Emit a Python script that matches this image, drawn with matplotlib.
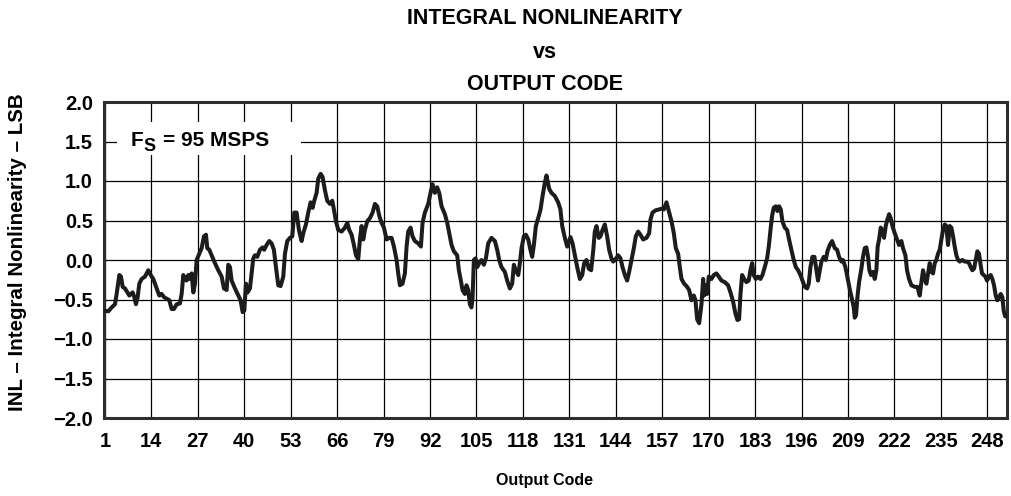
import matplotlib
matplotlib.use('Agg')
import matplotlib.pyplot as plt
from matplotlib.patches import Rectangle

plt.rcParams['font.family'] = ['Liberation Sans', 'DejaVu Sans']
plt.rcParams['font.weight'] = 'bold'

# output code (x) and INL in LSB (y)
code = [0.75, 1.96, 2.89, 3.82, 4.29, 5.04, 5.50, 5.97, 6.62, 7.28, 7.84, 8.30, 8.77, 9.24, 9.70,
        10.17, 10.63, 11.29, 12.22, 13.15, 13.81, 14.55, 15.49, 16.23, 16.88, 17.54, 18.28, 19.03,
        19.68, 20.34, 21.08, 22.01, 22.48, 22.95, 23.41, 23.88, 24.35, 24.81, 25.28, 25.75, 26.21,
        26.68, 27.43, 28.08, 28.73, 29.29, 29.66, 30.22, 30.88, 31.81, 32.74, 33.68, 34.33, 35.07,
        35.54, 36.01, 36.47, 37.41, 38.34, 38.99, 39.55, 40.02, 40.49, 40.95, 41.60,
        42.07, 42.53, 43.00, 43.65, 44.40, 45.14, 45.60, 46.26, 47.00, 47.66, 48.30, 48.88, 49.53,
        50.18, 50.93, 51.40, 52.05, 52.80, 53.45, 54.00, 54.66, 55.31, 56.06, 56.53, 57.27, 57.92,
        58.58, 59.14, 59.60, 60.26, 60.72, 61.38, 61.94, 62.60, 63.24, 64.00, 64.64, 65.10, 65.67,
        66.32, 67.25, 68.19, 68.84, 69.40, 70.05, 70.70, 71.27, 71.92, 72.38, 72.85, 73.32, 73.78,
        74.44, 75.18, 75.93, 76.58, 77.23, 77.80, 78.45, 79.10, 79.85, 80.60, 81.25, 81.90, 82.64,
        83.10, 83.58,
        84.30, 84.97, 85.44, 85.90, 86.56, 87.10, 87.77, 88.70, 89.45, 89.91, 90.57, 91.50, 92.15,
        92.71, 93.36, 94.00, 94.58, 95.23, 96.16, 96.82, 97.38, 98.03, 98.68, 99.60, 100.08, 100.55,
        101.10, 101.76, 102.20, 102.70, 103.16, 103.60, 103.90, 104.28, 104.75, 105.20, 105.77,
        106.40, 107.08, 107.64, 108.29, 109.20, 110.16, 110.80, 111.37, 112.00, 112.95, 113.60,
        114.35, 115.00, 115.47, 116.00, 116.70, 117.15, 117.62, 118.27, 118.83, 119.50, 120.10,
        120.60, 121.07, 121.63, 122.28, 122.94, 123.50, 124.15, 124.60, 125.36, 126.00,
        126.94, 127.87, 128.50, 129.00, 129.74, 130.40, 130.95, 131.32, 131.90, 132.54, 133.20,
        133.94, 134.60, 135.15, 135.80, 136.45, 137.10, 137.67, 138.13, 138.60, 139.25, 139.72,
        140.28, 140.93, 141.58, 142.14, 142.80, 143.26, 143.82, 144.66, 145.32, 145.88, 146.53,
        147.18, 147.74, 148.40, 149.05, 149.60, 150.26, 150.90, 151.66, 152.59, 153.34, 153.70,
        154.27, 155.20, 156.14, 156.79, 157.44, 158.19, 158.84, 159.59, 160.24, 160.80, 161.45,
        161.92, 162.39, 163.13, 163.79, 164.53, 165.18, 165.84, 166.30, 166.77, 167.33, 167.98,
        168.45,
        168.72, 169.19, 169.56, 170.03, 170.78, 171.43, 172.17, 172.83, 173.57, 174.50, 175.44,
        176.10, 176.84, 177.50, 178.05, 178.52, 178.90, 179.36, 179.92, 180.57, 181.20, 181.69,
        182.16, 182.60, 183.18, 183.84, 184.49, 185.05, 185.70, 186.35, 186.82, 187.30, 187.75,
        188.20, 188.78, 189.25, 189.71, 190.18, 190.64, 191.30, 191.95, 192.50, 193.16, 193.80,
        194.40, 195.03, 195.68, 196.24, 196.90, 197.55, 198.00, 198.48, 199.04, 199.60, 200.16,
        200.60, 201.10, 201.56, 202.20, 202.77, 203.24, 203.89, 204.54, 205.30, 205.94, 206.50,
        207.16, 207.60, 208.27, 209.00, 209.67, 210.20,
        210.60, 210.88, 211.25, 211.63, 212.10, 212.74, 213.20, 213.68, 214.14, 214.60, 214.98,
        215.45, 216.00, 216.48, 216.94, 217.30, 217.70, 218.15, 218.62, 219.10, 219.55, 220.00,
        220.50, 220.95, 221.42, 222.07, 222.73, 223.30, 223.94, 224.40, 225.06, 225.52, 226.08,
        226.74, 227.67, 228.42, 229.07, 229.54, 230.00, 230.47, 230.94, 231.40, 231.87, 232.34,
        232.80, 233.27, 233.73, 234.20, 234.67, 235.13, 235.60, 236.07, 236.53, 237.00, 237.47,
        237.93, 238.40, 238.86, 239.33, 239.80, 240.26, 241.00, 241.66, 242.30, 242.88, 243.34,
        243.80, 244.28, 244.74, 245.20, 245.67, 246.05, 246.50, 246.98, 247.45, 247.90, 248.47,
        248.94, 249.40, 249.87, 250.34, 250.80, 251.27, 251.74, 252.20, 252.58, 252.95, 253.50]

inl = [-0.64, -0.65, -0.60, -0.56, -0.43, -0.19, -0.21, -0.34, -0.36, -0.41, -0.45, -0.43, -0.41, -0.47, -0.56,
       -0.47, -0.30, -0.24, -0.21, -0.13, -0.19, -0.24, -0.36, -0.45, -0.43, -0.47, -0.49, -0.51,
       -0.62, -0.62, -0.56, -0.55, -0.43, -0.19, -0.24, -0.26, -0.19, -0.24, -0.17, -0.41, -0.30,
       0.00, 0.08, 0.15, 0.30, 0.32, 0.15, 0.13, 0.06, -0.04, -0.13, -0.21, -0.36, -0.38,
       -0.06, -0.09, -0.26, -0.36, -0.45, -0.51, -0.66, -0.64, -0.30, -0.41, -0.36,
       -0.17, 0.02, 0.06, 0.04, 0.13, 0.16, 0.13, 0.19, 0.24, 0.21, 0.13, -0.09, -0.32,
       -0.33, -0.21, 0.08, 0.24, 0.28, 0.30, 0.60, 0.60, 0.38, 0.24, 0.34, 0.45, 0.60,
       0.73, 0.66, 0.75, 0.85, 1.03, 1.09, 1.05, 0.88, 0.75, 0.71, 0.75, 0.64, 0.49,
       0.38, 0.36, 0.41, 0.47, 0.38, 0.32, 0.19, 0.06, 0.01, 0.26, 0.43, 0.26, 0.38,
       0.49, 0.53, 0.60, 0.71, 0.68, 0.56, 0.47, 0.41, 0.26, 0.28, 0.28, 0.17, 0.00,
       -0.17, -0.32,
       -0.30, -0.17, 0.17, 0.36, 0.41, 0.30, 0.24, 0.21, 0.17, 0.47, 0.60, 0.71, 0.85,
       0.96, 0.85, 0.92, 0.85, 0.68, 0.58, 0.47, 0.34, 0.19, 0.11, 0.06, -0.13, -0.24,
       -0.38, -0.43, -0.32, -0.38, -0.56, -0.60, -0.49, 0.00, 0.02, -0.09, -0.04,
       0.00, -0.06, 0.02, 0.21, 0.28, 0.24, 0.13, 0.00, -0.09, -0.15, -0.26,
       -0.36, -0.30, -0.06, -0.13, -0.19, -0.04, 0.15, 0.30, 0.32, 0.26, 0.13,
       0.04, 0.19, 0.43, 0.53, 0.64, 0.81, 0.98, 1.07, 0.90, 0.85,
       0.81, 0.73, 0.64, 0.43, 0.28, 0.17, 0.24, 0.29, 0.21, 0.06, -0.09,
       -0.24, -0.19, -0.04, 0.00, -0.11, -0.13, 0.11, 0.36, 0.43, 0.28, 0.30,
       0.38, 0.45, 0.30, 0.13, 0.02, -0.02, 0.00, 0.06, 0.02, -0.09, -0.19,
       -0.26, -0.15, 0.00, 0.15, 0.30, 0.36, 0.32, 0.26, 0.28, 0.34, 0.51,
       0.60, 0.63, 0.64, 0.65, 0.64, 0.73, 0.62, 0.49, 0.34, 0.15, 0.08,
       -0.09, -0.24, -0.30, -0.33, -0.38, -0.51, -0.45, -0.51, -0.75, -0.80, -0.56,
       -0.24,
       -0.45, -0.32, -0.43, -0.21, -0.24, -0.19, -0.17, -0.21, -0.26, -0.28, -0.32,
       -0.41, -0.53, -0.68, -0.76, -0.75, -0.43, -0.19, -0.24, -0.28, -0.26, -0.13,
       -0.04, -0.19, -0.24, -0.21, -0.24, -0.19, -0.09, 0.02, 0.17, 0.38, 0.56,
       0.66, 0.68, 0.62, 0.68, 0.64, 0.49, 0.41, 0.38, 0.26, 0.13, 0.00,
       -0.09, -0.13, -0.19, -0.26, -0.34, -0.36, -0.30, -0.09, 0.04, 0.04, -0.13,
       -0.26, -0.13, -0.02, 0.04, 0.00, 0.11, 0.19, 0.24, 0.15, 0.13, 0.04,
       -0.02, 0.00, -0.09, -0.26, -0.41, -0.51,
       -0.60, -0.73, -0.70, -0.47, -0.28, -0.11, 0.04, 0.15, 0.16, 0.04, -0.13,
       -0.19, -0.15, -0.24, -0.13, 0.17, 0.26, 0.41, 0.36, 0.28, 0.43, 0.51,
       0.58, 0.53, 0.43, 0.34, 0.26, 0.19, 0.24, 0.15, 0.06, -0.13, -0.24,
       -0.32, -0.34, -0.34, -0.45, -0.28, -0.13, -0.24, -0.30, -0.17, -0.04, -0.15,
       -0.17, -0.04, 0.00, 0.08, 0.13, 0.26, 0.38, 0.45, 0.43, 0.19, 0.43,
       0.41, 0.30, 0.17, 0.06, 0.00, -0.02, 0.00, -0.02, -0.02, -0.04, -0.09,
       -0.13, -0.11, 0.00, 0.11, 0.08, -0.04, -0.17, -0.19, -0.21, -0.26, -0.21,
       -0.19, -0.24, -0.32, -0.45, -0.51, -0.47, -0.43, -0.47, -0.64, -0.71, -0.72]

xticks = [1, 14, 27, 40, 53, 66, 79, 92, 105, 118, 131, 144, 157, 170, 183, 196, 209, 222, 235, 248]
yticks = [-2.0, -1.5, -1.0, -0.5, 0.0, 0.5, 1.0, 1.5, 2.0]

W, H = 1011, 496
fig = plt.figure(figsize=(W / 100, H / 100), dpi=100)
ax = fig.add_axes([104 / W, 1 - 418 / H, 903 / W, 316 / H])

ax.plot(code, inl, color='#1c1c1c', lw=2.9, solid_joinstyle='round', zorder=3)

ax.set_xlim(0.75, 253.5)
ax.set_ylim(-2.0, 2.0)
ax.set_xticks(xticks)
ax.set_yticks(yticks)
ax.set_yticklabels([('%.1f' % v).replace('-', '\u2212') for v in yticks])
ax.grid(True, color='black', lw=0.9)
ax.tick_params(length=0, labelsize=14.5)
ax.tick_params(axis='x', pad=10)
ax.tick_params(axis='y', pad=8)
for s in ax.spines.values():
    s.set_linewidth(2.2)
    s.set_color('#2e2e2e')

# F_S note with a white patch over the grid
ax.add_patch(Rectangle((117 / W, 1 - 155 / H), 184 / W, 33 / H, transform=fig.transFigure,
                       facecolor='white', edgecolor='none', zorder=2.6))
fig.text(131 / W, 1 - 146 / H, 'F', fontsize=15, fontweight='bold', ha='left', va='baseline', zorder=5)
fig.text(143 / W, 1 - 151 / H, 'S', fontsize=13, fontweight='bold', ha='left', va='baseline', zorder=5)
fig.text(163 / W, 1 - 146 / H, '= 95 MSPS', fontsize=15, fontweight='bold', ha='left', va='baseline', zorder=5)

fig.text(18 / W, 1 - 252 / H, 'INL \u2013 Integral Nonlinearity \u2013 LSB', fontsize=14.8, fontweight='bold',
         rotation=90, ha='center', va='center')
fig.text(545 / W, 1 - 481 / H, 'Output Code', fontsize=11.5, fontweight='bold', ha='center', va='center')

fig.text(545 / W, 1 - 18 / H, 'INTEGRAL NONLINEARITY', fontsize=15.5, fontweight='bold', ha='center', va='center')
fig.text(545 / W, 1 - 52 / H, 'vs', fontsize=15.5, fontweight='bold', ha='center', va='center')
fig.text(545 / W, 1 - 85 / H, 'OUTPUT CODE', fontsize=15.5, fontweight='bold', ha='center', va='center')

fig.savefig('out.png', dpi=100)
